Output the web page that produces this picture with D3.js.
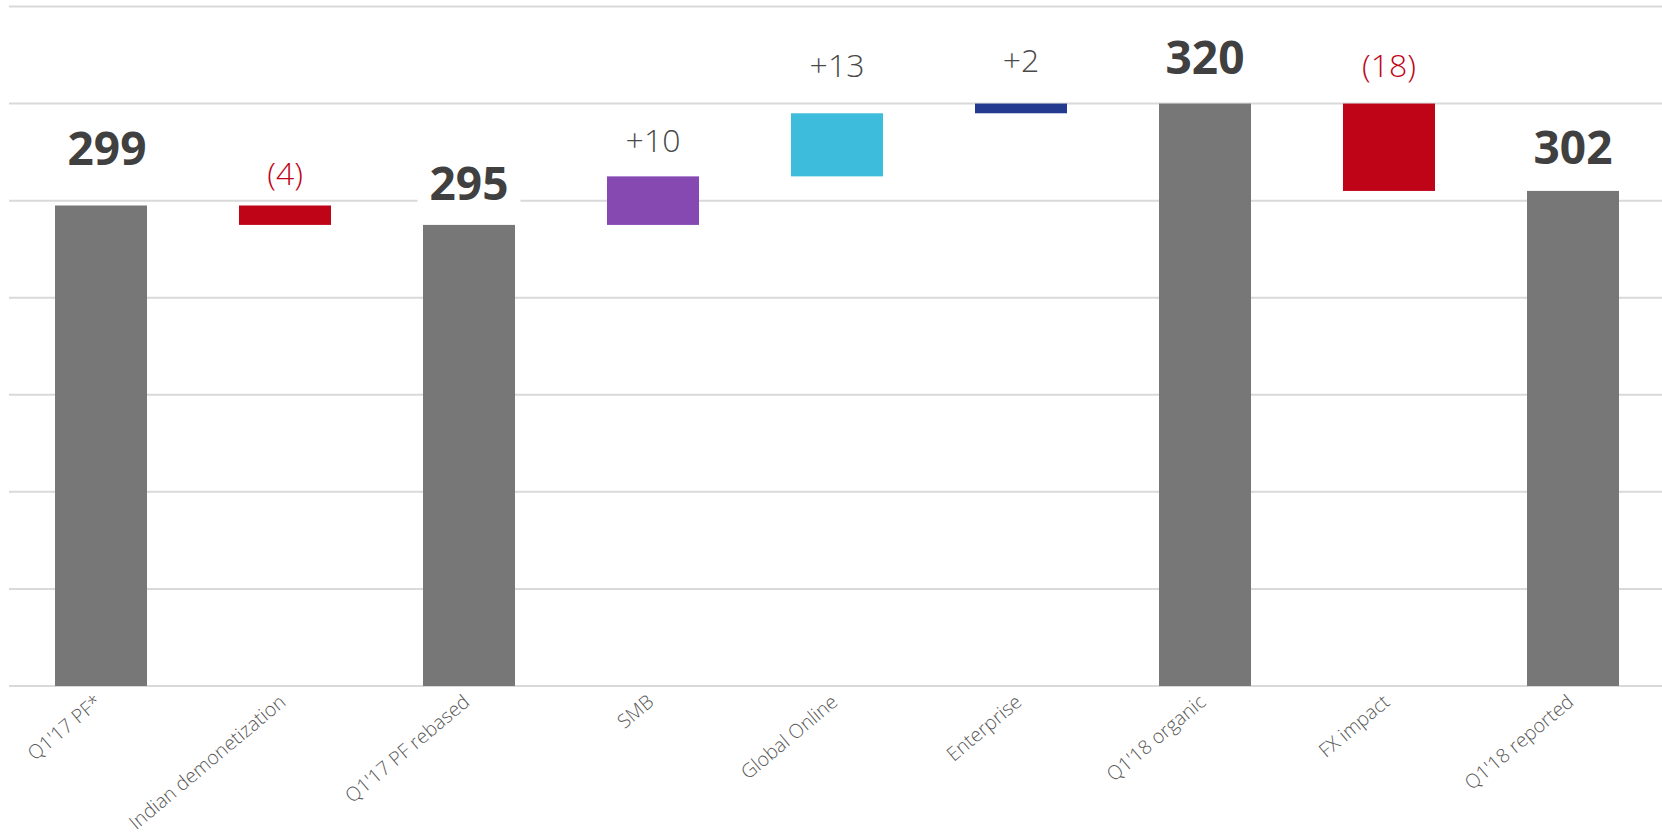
<!DOCTYPE html>
<html>
<head>
<meta charset="utf-8">
<script src="https://cdn.jsdelivr.net/npm/d3@7/dist/d3.min.js"></script>
<style>
  html, body { margin: 0; padding: 0; background: #ffffff; }
  svg { display: block; }
</style>
</head>
<body>
<svg id="chart" width="1662" height="839"></svg>
<script>
// Revenue bridge, Q1'17 to Q1'18
const categories = [
  "Q1'17 PF*", "Indian demonetization", "Q1'17 PF rebased", "SMB",
  "Global Online", "Enterprise", "Q1'18 organic", "FX impact", "Q1'18 reported"
];
// Totals are absolute levels; the others are changes from the running level
const values  = [299, -4, 295, 10, 13, 2, 320, -18, 302];
const isTotal = [true, false, true, false, false, false, true, false, true];
const yTicks  = [200, 220, 240, 260, 280, 300, 320, 340];

// Bar colours
const barColors = ["#777777", "#C00418", "#777777", "#8549B1", "#3DBDDB", "#233A8E", "#777777", "#C00418", "#777777"];
// Space between a label's baseline and the top of its bar, and sideways shift
const labelGap   = [40, 20, 25, 24, 36, 32, 30, 27, 27];
const labelShift = [6, 0, 0, 0, 0, 0, 0, 0, 0];

const W = 1662, H = 839;
const svg = d3.select("#chart");

const x = d3.scaleBand()
  .domain(categories)
  .range([9, 1665])
  .paddingInner(0.5)
  .paddingOuter(0.25);

const y = d3.scaleLinear().domain([200, 340]).range([686, 6.5]);

// Waterfall segments: each bar spans from its start level to its end level
let level = 0;
const bars = categories.map((c, i) => {
  let start, end;
  if (isTotal[i]) { start = 200; end = values[i]; level = values[i]; }
  else { start = level; end = level + values[i]; level = end; }
  return { c, i, v: values[i], start, end, top: Math.max(start, end), low: Math.min(start, end) };
});

// Horizontal gridlines
svg.append("g")
  .selectAll("line")
  .data(yTicks)
  .join("line")
  .attr("x1", 9).attr("x2", W)
  .attr("y1", d => y(d)).attr("y2", d => y(d))
  .attr("stroke", "#d9d9d9")
  .attr("stroke-width", 2);

// Bars
svg.append("g")
  .selectAll("rect")
  .data(bars)
  .join("rect")
  .attr("x", d => x(d.c))
  .attr("width", x.bandwidth())
  .attr("y", d => y(d.top))
  .attr("height", d => y(d.low) - y(d.top))
  .attr("fill", d => barColors[d.i]);

// Value labels
const fmt = d => isTotal[d.i] ? String(d.v) : (d.v < 0 ? `(${-d.v})` : `+${d.v}`);
const labels = svg.append("g")
  .selectAll("g")
  .data(bars)
  .join("g")
  .attr("transform", d => `translate(${x(d.c) + x.bandwidth() / 2 + labelShift[d.i]},${y(d.top) - labelGap[d.i]})`);

labels.append("text")
  .attr("text-anchor", "middle")
  .attr("font-family", d => isTotal[d.i] ? "'Open Sans', 'DejaVu Sans', sans-serif" : "'Open Sans', 'Lato', sans-serif")
  .attr("font-weight", d => isTotal[d.i] ? 700 : 300)
  .attr("font-size", d => isTotal[d.i] ? 46 : 32)
  .attr("fill", d => isTotal[d.i] ? "#404040" : (d.v < 0 ? "#C00418" : "#4a4a4a"))
  .text(fmt)
  .each(function (d) {
    if (!isTotal[d.i]) return;
    // white backing so gridlines do not run through the total labels
    const b = this.getBBox();
    d3.select(this.parentNode).insert("rect", "text")
      .attr("x", b.x - 12).attr("y", b.y + 6)
      .attr("width", b.width + 24).attr("height", b.height - 6)
      .attr("fill", "#ffffff");
  });

// Category axis labels
svg.append("g")
  .selectAll("text")
  .data(categories)
  .join("text")
  .attr("transform", c => `translate(${x(c) + x.bandwidth() / 2 + 2},${704}) rotate(-40)`)
  .attr("text-anchor", "end")
  .attr("font-family", "'Open Sans', 'Lato', sans-serif")
  .attr("font-weight", 300)
  .attr("font-size", 19.5)
  .attr("fill", "#595959")
  .text(c => c);
</script>
</body>
</html>
